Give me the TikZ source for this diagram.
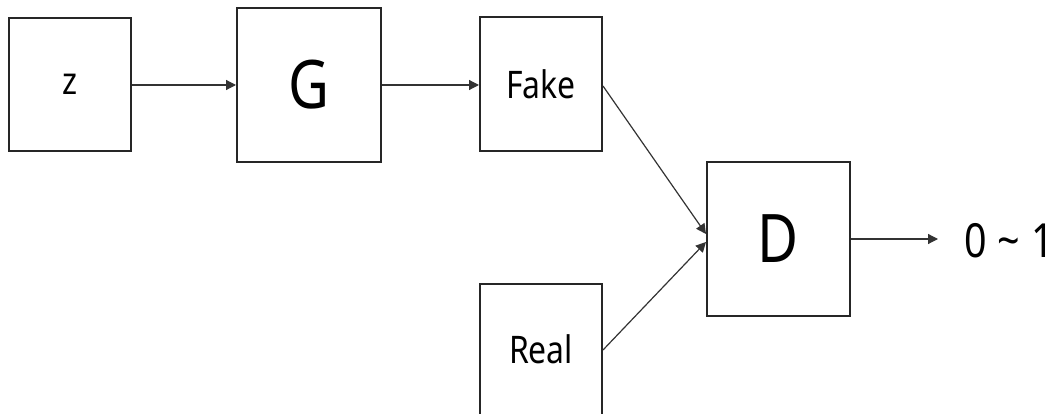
\documentclass[tikz,border=0pt]{standalone}
\usepackage{fontspec}
\setmainfont[FakeStretch=0.84]{Noto Sans}
\usetikzlibrary{arrows.meta}
\begin{document}
\begin{tikzpicture}[x=1pt,y=-1pt,
  blk/.style={draw=black!85,line width=2pt,inner sep=0pt},
  link/.style={draw=black!80,line width=1.2pt,-{Triangle[length=10pt,width=10pt]}},
  small/.style={font=\fontsize{38}{40}\selectfont},
  big/.style={font=\fontsize{67}{70}\selectfont}]
\useasboundingbox (0,0) rectangle (1053,414);
% boxes
\node[blk,minimum width=122pt,minimum height=133pt,small] (z) at (70,84.5) {z};
\node[blk,minimum width=144pt,minimum height=154pt,big] (G) at (309,85) {G};
\node[blk,minimum width=122pt,minimum height=134pt,small] (fake) at (541,84) {Fake};
\node[blk,minimum width=122pt,minimum height=150pt,small,text depth=0pt] (real) at (541,359) {};
\node[small,anchor=base] (realtxt) at (541,363) {Real};
\node[blk,minimum width=143pt,minimum height=154pt,big] (D) at (778.5,239) {D};
\node[font=\fontsize{47}{50}\selectfont,anchor=west,inner sep=0pt] (out) at (964,241) {0\kern11pt\char"007E\kern11pt 1};
\coordinate (outend) at (938,239);
% connectors
\draw[link] (z.east |- 0,85) -- (G.west |- 0,85);
\draw[link] (G.east |- 0,85) -- (fake.west |- 0,85);
\draw[link] (fake.east |- 0,86) -- (D.west |- 0,234);
\draw[link] (real.east |- 0,350) -- (D.west |- 0,242);
\draw[link] (D.east |- 0,239) -- (outend);
\end{tikzpicture}
\end{document}
